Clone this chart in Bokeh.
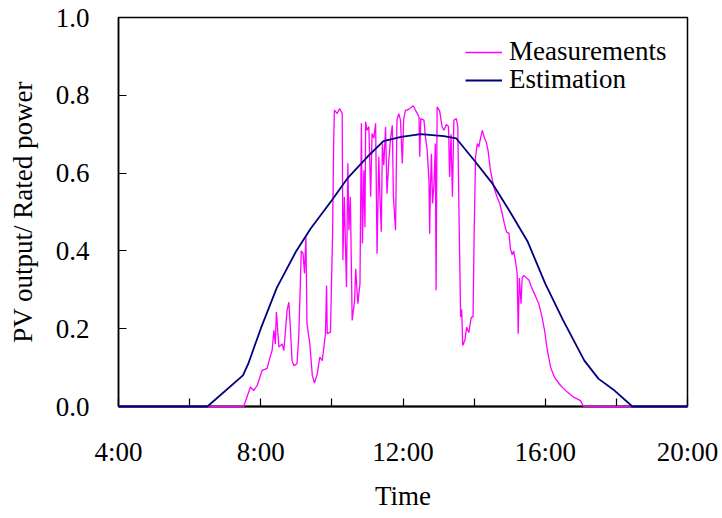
from bokeh.plotting import figure
from bokeh.models import FixedTicker, NumeralTickFormatter, Legend, LegendItem, Range1d
from bokeh.embed import file_html
from bokeh.resources import INLINE

# ---- data (hours of day, PV output / rated power) ----
meas_t = [4.0, 7.52, 7.71, 7.80, 7.90, 8.04, 8.18, 8.25, 8.32, 8.37, 8.41, 8.44, 8.51, 8.60, 8.65,
          8.74, 8.79, 8.84, 8.88, 8.93, 9.02, 9.07, 9.14, 9.19, 9.23, 9.27, 9.30, 9.38, 9.45, 9.51,
          9.59, 9.66, 9.73, 9.82, 9.85, 9.87, 9.96, 10.02, 10.05, 10.07, 10.15, 10.22, 10.29, 10.31,
          10.35, 10.41, 10.45, 10.48, 10.52, 10.57, 10.64, 10.67, 10.73, 10.79, 10.83, 10.86, 10.90,
          10.93, 10.95, 10.99, 11.04, 11.09, 11.13, 11.18, 11.23, 11.27, 11.32, 11.35, 11.39, 11.42,
          11.46, 11.51, 11.55, 11.60, 11.65, 11.70, 11.73, 11.79, 11.83, 11.88, 11.93, 11.98, 12.02,
          12.07, 12.12, 12.19, 12.29, 12.35, 12.45, 12.47, 12.50, 12.59, 12.63, 12.68, 12.73, 12.75,
          12.77, 12.80, 12.83, 12.87, 12.91, 12.93, 12.96, 13.03, 13.10, 13.15, 13.22, 13.28, 13.31,
          13.35, 13.39, 13.43, 13.50, 13.54, 13.58, 13.62, 13.65, 13.68, 13.74, 13.79, 13.85, 13.92,
          13.97, 14.00, 14.04, 14.09, 14.13, 14.18, 14.23, 14.29, 14.34, 14.39, 14.46, 14.55, 14.64,
          14.72, 14.78, 14.85, 14.91, 14.98, 15.02, 15.07, 15.11, 15.16, 15.21, 15.24, 15.27, 15.32,
          15.35, 15.40, 15.48, 15.54, 15.63, 15.72, 15.82, 15.91, 15.98, 16.06, 16.15, 16.26, 16.43,
          16.62, 16.80, 16.99, 17.08, 20.0]
meas_v = [0.0, 0.0, 0.050, 0.041, 0.054, 0.093, 0.098, 0.123, 0.144, 0.196, 0.161, 0.243, 0.153, 0.161, 0.144,
          0.247, 0.268, 0.191, 0.118, 0.105, 0.110, 0.183, 0.400, 0.393, 0.342, 0.436, 0.213, 0.161, 0.080, 0.060,
          0.084, 0.127, 0.118, 0.187, 0.311, 0.187, 0.191, 0.444, 0.676, 0.762, 0.753, 0.766, 0.753, 0.376,
          0.539, 0.307, 0.625, 0.453, 0.539, 0.221, 0.273, 0.354, 0.264, 0.316, 0.728, 0.419, 0.607,
          0.461, 0.732, 0.710, 0.720, 0.539, 0.702, 0.690, 0.728, 0.393, 0.642, 0.540, 0.449, 0.676,
          0.620, 0.719, 0.547, 0.630, 0.690, 0.723, 0.539, 0.453, 0.736, 0.753, 0.736, 0.625, 0.740,
          0.762, 0.762, 0.766, 0.773, 0.762, 0.745, 0.642, 0.740, 0.736, 0.693, 0.659, 0.582, 0.444,
          0.560, 0.650, 0.522, 0.570, 0.676, 0.299, 0.770, 0.760, 0.719, 0.710, 0.725, 0.720, 0.590,
          0.700, 0.539, 0.736, 0.740, 0.720, 0.461, 0.230, 0.250, 0.157, 0.170, 0.204, 0.190, 0.230,
          0.230, 0.440, 0.642, 0.676, 0.667, 0.690, 0.710, 0.690, 0.680, 0.659, 0.607, 0.565, 0.540,
          0.522, 0.500, 0.470, 0.449, 0.445, 0.406, 0.390, 0.400, 0.376, 0.342, 0.187, 0.330, 0.264,
          0.330, 0.337, 0.330, 0.325, 0.303, 0.285, 0.264, 0.230, 0.196, 0.144, 0.101, 0.075, 0.054,
          0.037, 0.024, 0.015, 0.0, 0.0]

est_t = [4.0, 6.5, 7.5, 7.65, 8.0, 8.45, 9.0, 9.4, 10.0, 10.45, 11.0, 11.45, 11.95, 12.5, 13.15,
         13.5, 14.0, 14.5, 15.0, 15.5, 16.0, 16.5, 17.1, 17.5, 17.95, 18.45, 20.0]
est_v = [0.0, 0.0, 0.080, 0.110, 0.200, 0.305, 0.400, 0.457, 0.530, 0.588, 0.642, 0.682, 0.693, 0.700, 0.695,
         0.689, 0.633, 0.575, 0.502, 0.425, 0.316, 0.222, 0.118, 0.071, 0.041, 0.0, 0.0]

x_ticks = [4, 8, 12, 16, 20]
x_tick_labels = ["4:00", "8:00", "12:00", "16:00", "20:00"]
x_minor_ticks = [6, 10, 14, 18]
y_ticks = [0.0, 0.2, 0.4, 0.6, 0.8, 1.0]
series_names = ["Measurements", "Estimation"]

FONT = "Liberation Serif"

p = figure(width=718, height=513, output_backend="svg", toolbar_location=None,
           x_range=Range1d(4, 20), y_range=Range1d(0, 1),
           min_border_left=118, min_border_right=31, min_border_top=17, min_border_bottom=107)
p.xgrid.visible = False
p.ygrid.visible = False
p.outline_line_color = "black"
p.outline_line_width = 1.5
p.background_fill_color = "white"
p.border_fill_color = "white"

r_meas = p.line(meas_t, meas_v, line_color="#FF00FF", line_width=1.3, level="overlay")
r_est = p.line(est_t, est_v, line_color="#000080", line_width=1.8, level="overlay")

xa = p.xaxis[0]
xa.ticker = FixedTicker(ticks=x_ticks, minor_ticks=x_minor_ticks)
xa.major_label_overrides = {t: l for t, l in zip(x_ticks, x_tick_labels)}
xa.axis_label = "Time"
xa.major_tick_in = 8
xa.major_tick_out = 0
xa.minor_tick_in = 8
xa.minor_tick_out = 0
xa.major_label_standoff = 30
xa.axis_label_standoff = 11
xa.axis_line_width = 2

ya = p.yaxis[0]
ya.ticker = FixedTicker(ticks=y_ticks)
ya.formatter = NumeralTickFormatter(format="0.0")
ya.axis_label = "PV output/ Rated power"
ya.major_tick_in = 8
ya.major_tick_out = 0
ya.minor_tick_line_color = None
ya.major_label_standoff = 29
ya.axis_label_standoff = 15
ya.axis_line_width = 1.5

for ax in (xa, ya):
    ax.axis_line_color = "black"
    ax.major_tick_line_color = "black"
    ax.minor_tick_line_color = "black" if ax is xa else None
    ax.major_tick_line_width = 1.2
    ax.minor_tick_line_width = 1.2
    ax.major_label_text_font = FONT
    ax.major_label_text_font_size = "27px"
    ax.major_label_text_color = "black"
    ax.axis_label_text_font = FONT
    ax.axis_label_text_font_size = "27px"
    ax.axis_label_text_font_style = "normal"
    ax.axis_label_text_color = "black"

for name, rend, loc in zip(series_names, [r_meas, r_est], [(347, 339), (347, 311)]):
    lg = Legend(items=[LegendItem(label=name, renderers=[rend])],
                location=loc, margin=0, padding=3, spacing=0,
                glyph_width=37, glyph_height=28, label_height=28, label_standoff=7,
                label_text_font=FONT, label_text_font_size="27px", label_text_color="black",
                border_line_color=None, background_fill_alpha=0)
    p.add_layout(lg)

open("out.html", "w").write(file_html(p, INLINE))
